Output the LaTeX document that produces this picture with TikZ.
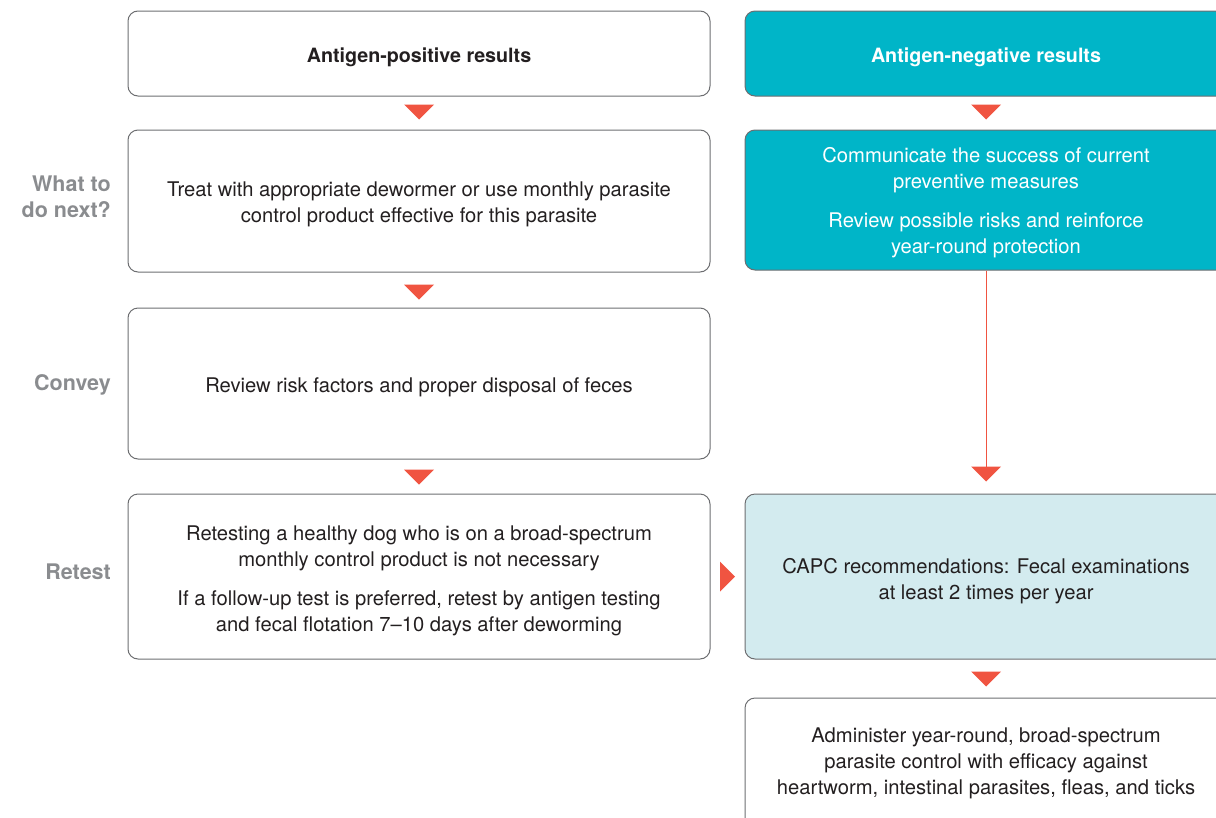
\documentclass[tikz,border=0pt]{standalone}
\usepackage{fontspec}
\setmainfont{TeX Gyre Heros}
\usetikzlibrary{calc}
\definecolor{teal}{HTML}{00B5C8}
\definecolor{lightteal}{HTML}{D3EBEF}
\definecolor{arrowred}{HTML}{F05441}
\definecolor{boxgrey}{HTML}{6D6E71}
\definecolor{labelgrey}{HTML}{8A8C8F}
\definecolor{ink}{HTML}{231F20}
\tikzset{
  box/.style={draw=boxgrey, line width=1pt, rounded corners=10pt, align=center,
    inner sep=0pt, font=\fontsize{20.2}{26}\selectfont, text=ink},
  headfont/.style={font=\fontsize{19.7}{26}\selectfont\bfseries, text depth=0pt},
  tealbox/.style={box, fill=teal, text=white},
  lightbox/.style={box, fill=lightteal},
  rowlabel/.style={anchor=east, align=right, inner sep=0pt, text=labelgrey, font=\fontsize{21.5}{26}\selectfont\bfseries},
  marker/.style={fill=arrowred, draw=none},
}
\newcommand{\downtri}[1]{%
  \fill[marker] ($#1+(-15,0)$) -- ($#1+(15,0)$) -- ($#1+(0,15)$) -- cycle;}
\newcommand{\lowered}[3]{\raisebox{-#1}[\height][\depth]{\parbox{#2}{\centering #3}}}
\begin{document}
\begin{tikzpicture}[x=1pt,y=-1pt]
\useasboundingbox (0,0) rectangle (1216,817);
\clip (0,0) rectangle (1216,817);
% headers
\node[box, headfont, minimum width=582pt, minimum height=85pt] (hl) at (419,53.5) {\raisebox{-3pt}{Antigen-positive results}};
\node[tealbox, headfont, minimum width=482pt, minimum height=85pt] (hr) at (986,53.5) {\raisebox{-3pt}{Antigen-negative results}};
% row 1
\node[box, minimum width=582pt, minimum height=142pt] (nl) at (419,201) {\lowered{3pt}{560pt}{Treat with appropriate dewormer or use monthly parasite\\control product effective for this parasite}};
\node[tealbox, minimum width=482pt, minimum height=140pt] (nr) at (986,200) {\lowered{3pt}{470pt}{Communicate the success of current\\preventive measures\\[13pt]Review possible risks and reinforce\\year-round protection}};
% row 2
\node[box, minimum width=582pt, minimum height=151pt] (cl) at (419,383.5) {\lowered{4pt}{560pt}{Review risk factors and proper disposal of feces}};
% row 3
\node[box, minimum width=582pt, minimum height=165pt] (rl) at (419,576.5) {\lowered{4pt}{570pt}{Retesting a healthy dog who is on a broad-spectrum\\monthly control product is not necessary\\[13pt]If a follow-up test is preferred, retest by antigen testing\\and fecal flotation 7--10 days after deworming}};
\node[lightbox, minimum width=482pt, minimum height=165pt] (rr) at (986,576.5) {\lowered{5pt}{470pt}{CAPC recommendations: Fecal examinations\\at least 2 times per year}};
% bottom
\node[box, minimum width=482pt, minimum height=130pt] (bt) at (986,763) {\parbox{470pt}{\centering Administer year-round, broad-spectrum\\parasite control with efficacy against\\heartworm, intestinal parasites, fleas, and ticks}};
% row labels
\node[rowlabel] (l1) at (111,197) {What to\\do next?};
\node[rowlabel] (l2) at (111,385) {Convey};
\node[rowlabel] (l3) at (111,572) {Retest};
% markers
\coordinate (m1) at ($(hl.south)+(0,8)$);
\coordinate (m2) at ($(hr.south)+(0,8)$);
\coordinate (m3) at ($(nl.south)+(0,12)$);
\coordinate (m4) at ($(cl.south)+(0,10)$);
\coordinate (m5) at ($(rr.north)+(0,-27)$);
\coordinate (m6) at ($(rr.south)+(0,12)$);
\downtri{(m1)}
\downtri{(m2)}
\downtri{(m3)}
\downtri{(m4)}
\downtri{(m6)}
\draw[arrowred, line width=1pt] (nr.south) -- (m5);
\downtri{(m5)}
\coordinate (rm) at ($(rl.east)!0.5!(rr.west)$);
\fill[marker] ($(rm)+(-7.5,-15)$) -- ($(rm)+(7.5,0)$) -- ($(rm)+(-7.5,15)$) -- cycle;
\end{tikzpicture}
\end{document}
